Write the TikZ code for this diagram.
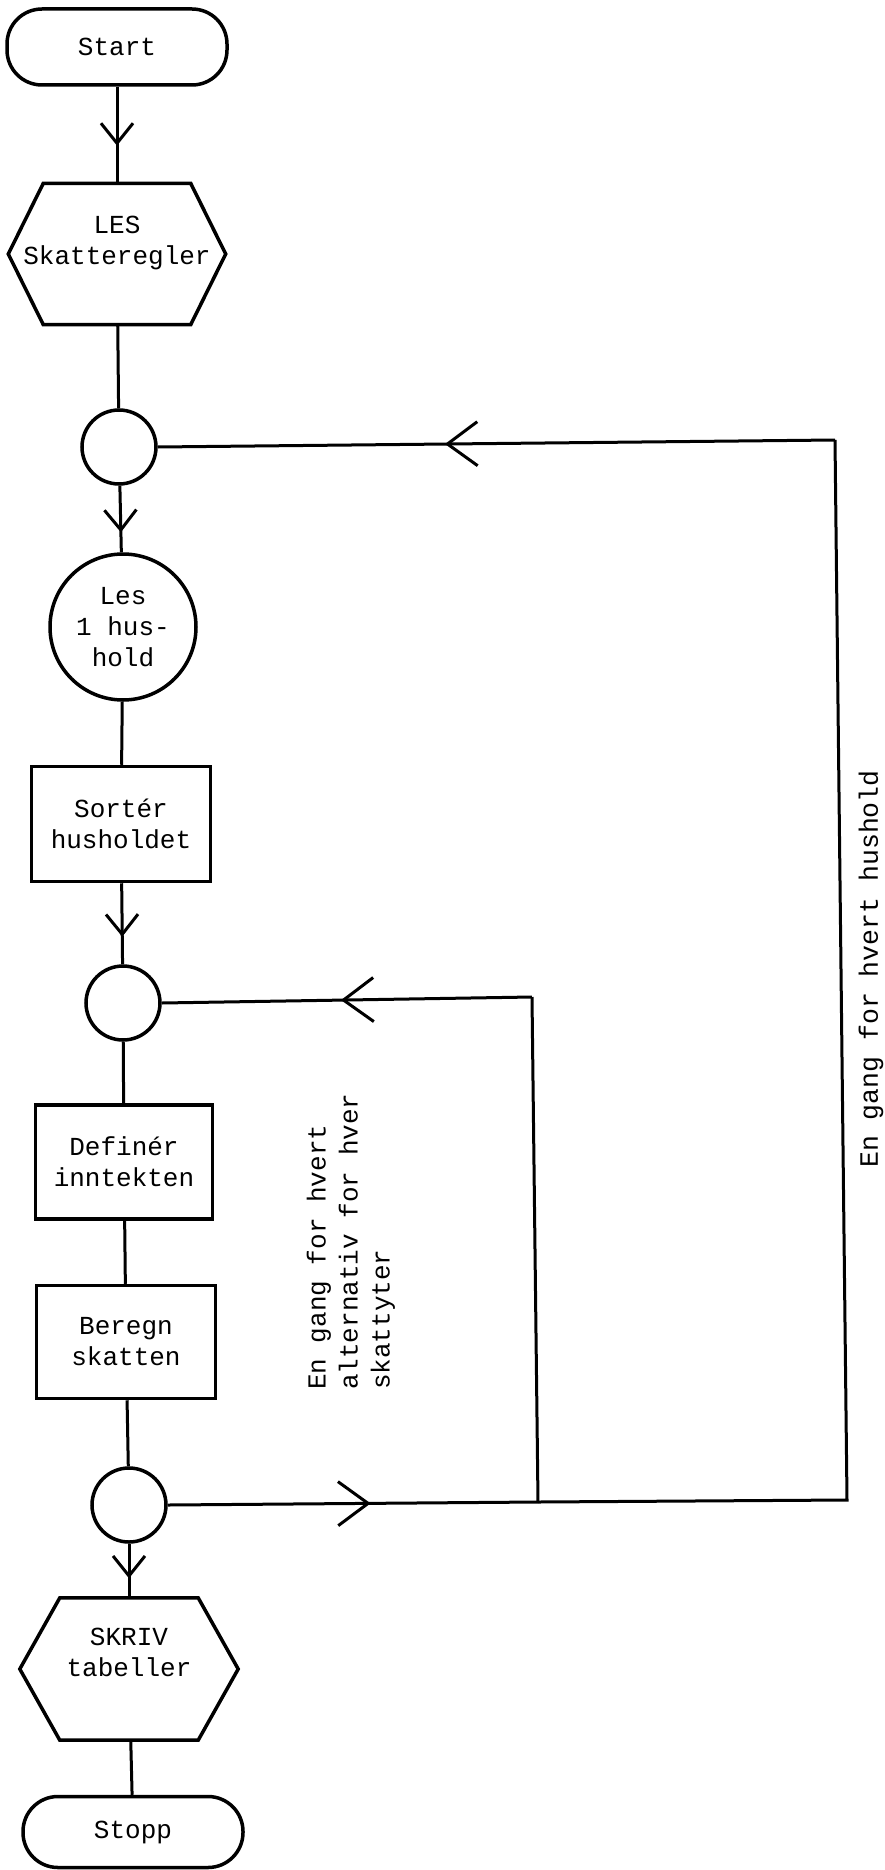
\documentclass[tikz,border=0pt]{standalone}
\usepackage{fontspec}
\newfontfamily\tw{Liberation Mono}
\usetikzlibrary{arrows.meta,decorations.markings}
\begin{document}
\begin{tikzpicture}[x=1pt,y=-1pt,
  every node/.style={font=\tw\fontsize{26}{31}\selectfont, inner sep=0pt, align=center},
  term/.style={draw, line width=3.5pt, rectangle, rounded corners=35pt},
  box/.style={draw, line width=3.5pt, rectangle},
  circ/.style={draw, line width=3.5pt, circle},
  hexframe/.style={draw=none, rectangle},
  hexline/.style={line width=3.5pt, line join=miter},
  conn/.style={line width=3pt},
  lab/.style={font=\tw\fontsize{26}{32}\selectfont},
  vmid/.style={postaction={decorate}, decoration={markings, mark=at position #1 with {\arrow[line width=3pt]{Straight Barb[length=20pt,width=32pt]}}}},
  hmid/.style={postaction={decorate}, decoration={markings, mark=at position #1 with {\arrow[line width=3pt]{Straight Barb[length=30pt,width=44pt]}}}}
]
\useasboundingbox[fill=white] (0,0) rectangle (884,1870);

% main column
\node[term, minimum width=220pt, minimum height=76pt] (start) at (117,47) {Start};
\node[hexframe, minimum width=217pt, minimum height=141pt] (les) at (117,254) {};
\node (lestext) at (117,243) {LES\\Skatteregler};
\draw[hexline] ([xshift=35pt]les.north west) -- ([xshift=-35pt]les.north east) -- (les.east) -- ([xshift=-35pt]les.south east) -- ([xshift=35pt]les.south west) -- (les.west) -- cycle;
\node[circ, minimum size=74pt] (j1) at (119,447) {};
\node[circ, minimum size=146pt] (hh) at (123,627) {Les\\1 hus-\\hold};
\node[box, minimum width=179pt, minimum height=115pt] (sort) at (121,824) {Sortér\\husholdet};
\node[circ, minimum size=74pt] (j2) at (123,1003) {};
\node[box, minimum width=177pt, minimum height=114pt] (def) at (124,1162) {Definér\\inntekten};
\node[box, minimum width=179pt, minimum height=113pt] (ber) at (126,1342) {Beregn\\skatten};
\node[circ, minimum size=74pt] (j3) at (129,1505) {};
\node[hexframe, minimum width=218pt, minimum height=142pt] (skriv) at (129,1669) {};
\node (skrivtext) at (129,1652) {SKRIV\\tabeller};
\draw[hexline] ([xshift=40pt]skriv.north west) -- ([xshift=-40pt]skriv.north east) -- (skriv.east) -- ([xshift=-40pt]skriv.south east) -- ([xshift=40pt]skriv.south west) -- (skriv.west) -- cycle;
\node[term, minimum width=220pt, minimum height=71pt] (stopp) at (133,1832) {Stopp};

% loop corners
\coordinate (c1) at (835,440);
\coordinate (c2) at (847,1500);
\coordinate (m1) at (532,997);
\coordinate (m2) at (538,1502);

% vertical connectors
\draw[conn, vmid=0.61] (start) -- (les);
\draw[conn] (les) -- (j1);
\draw[conn, vmid=0.70] (j1) -- (hh);
\draw[conn] (hh) -- (sort);
\draw[conn, vmid=0.66] (sort) -- (j2);
\draw[conn] (j2) -- (def);
\draw[conn] (def) -- (ber);
\draw[conn] (ber) -- (j3);
\draw[conn, vmid=0.64] (j3) -- (skriv);
\draw[conn] (skriv) -- (stopp);

% loops
\draw[conn, hmid=0.548] (j3.east) -- (m2);
\draw[conn] (m2) -- (c2) -- (c1);
\draw[conn, hmid=0.576] (c1) -- (j1.east);
\draw[conn] (m2) -- (m1);
\draw[conn, hmid=0.516] (m1) -- (j2.east);

% labels
\node[lab, rotate=90, anchor=west, align=left] (lab1) at (351,1390) {En gang for hvert\\alternativ for hver\\skattyter};
\node[lab, rotate=90, anchor=west, font=\tw\fontsize{26.5}{32}\selectfont] (lab2) at (871,1168) {En gang for hvert hushold};
\end{tikzpicture}
\end{document}
